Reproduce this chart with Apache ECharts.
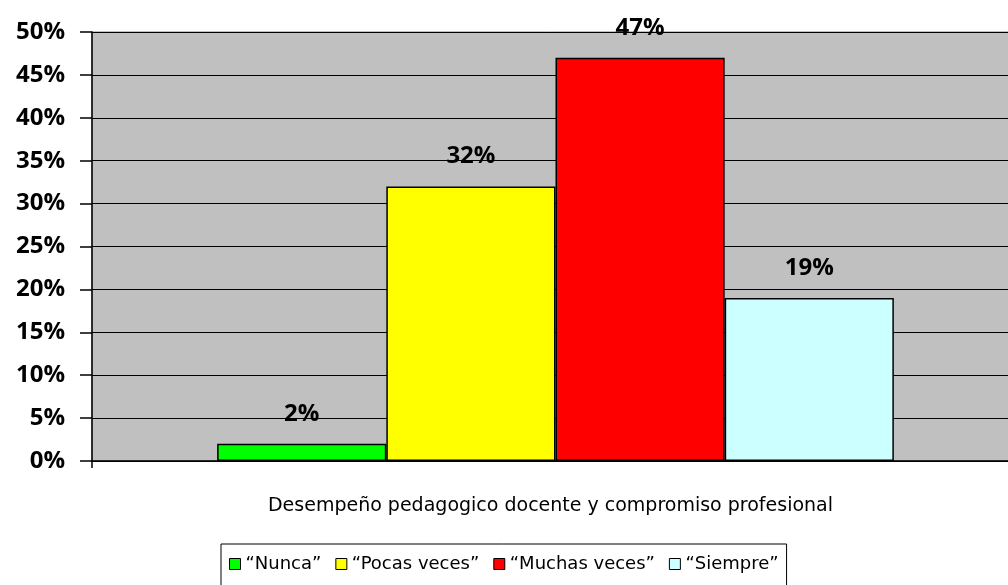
<!DOCTYPE html>
<html>
<head>
<meta charset="utf-8">
<script src="https://cdn.jsdelivr.net/npm/echarts@6/dist/echarts.min.js"></script>
<style>
  html, body { margin: 0; padding: 0; background: #fff; }
  #chart { width: 1008px; height: 585px; }
</style>
</head>
<body>
<div id="chart"></div>
<script>
  // datos del grafico
  const categories = ['Desempeño pedagogico docente y compromiso profesional'];
  const seriesNames = ['\u201cNunca\u201d', '\u201cPocas veces\u201d', '\u201cMuchas veces\u201d', '\u201cSiempre\u201d'];
  const seriesValues = [2, 32, 47, 19];
  const seriesColors = ['#00ff00', '#ffff00', '#ff0000', '#ccffff'];

  const chart = echarts.init(document.getElementById('chart'));

  const series = seriesNames.map((name, i) => ({
    name: name,
    type: 'bar',
    data: [seriesValues[i]],
    barGap: '0%',
    barCategoryGap: '27%',
    itemStyle: { color: seriesColors[i], borderColor: '#000', borderWidth: 1.5 },
    label: {
      show: true,
      position: 'top',
      distance: 18,
      formatter: '{c}%',
      fontFamily: 'Open Sans',
      fontWeight: 'bold',
      fontSize: 24,
      color: '#000'
    }
  }));

  chart.setOption({
    animation: false,
    grid: { // area del grafico (sale un poco por la derecha)
      left: 92,
      top: 32,
      width: 927,
      bottom: 124,
      outerBoundsMode: 'none',
      show: true,
      backgroundColor: '#c0c0c0',
      borderColor: '#808080',
      borderWidth: 1
    },
    legend: {
      top: 544,
      left: 221,
      itemWidth: 11,
      itemHeight: 11,
      itemGap: 14,
      padding: [11, 8, 20, 8],
      borderColor: '#000',
      borderWidth: 1,
      icon: 'rect',
      itemStyle: { borderColor: '#000', borderWidth: 1 },
      textStyle: { fontFamily: 'DejaVu Sans', fontSize: 18, color: '#000' },
      data: seriesNames
    },
    xAxis: {
      type: 'category',
      data: [''],
      name: categories[0],
      nameLocation: 'middle',
      nameGap: 36,
      nameTextStyle: { fontFamily: 'DejaVu Sans', fontSize: 19, color: '#000', padding: [0, 10, 0, 0] },
      axisLine: { lineStyle: { color: '#000', width: 1.5 } },
      axisTick: { show: true, length: 7, lineStyle: { color: '#000', width: 1.5 } },
      axisLabel: { show: false }
    },
    yAxis: {
      type: 'value',
      min: 0,
      max: 50,
      interval: 5,
      axisLine: { show: true, lineStyle: { color: '#000', width: 1.5 } },
      axisTick: { show: true, length: 12, lineStyle: { color: '#000', width: 1.5 } },
      axisLabel: {
        formatter: '{value}%',
        margin: 27,
        fontFamily: 'Open Sans',
        fontWeight: 'bold',
        fontSize: 24,
        color: '#000'
      },
      splitLine: { show: true, lineStyle: { color: '#000', width: 1.2 } }
    },
    series: series
  });
</script>
</body>
</html>
